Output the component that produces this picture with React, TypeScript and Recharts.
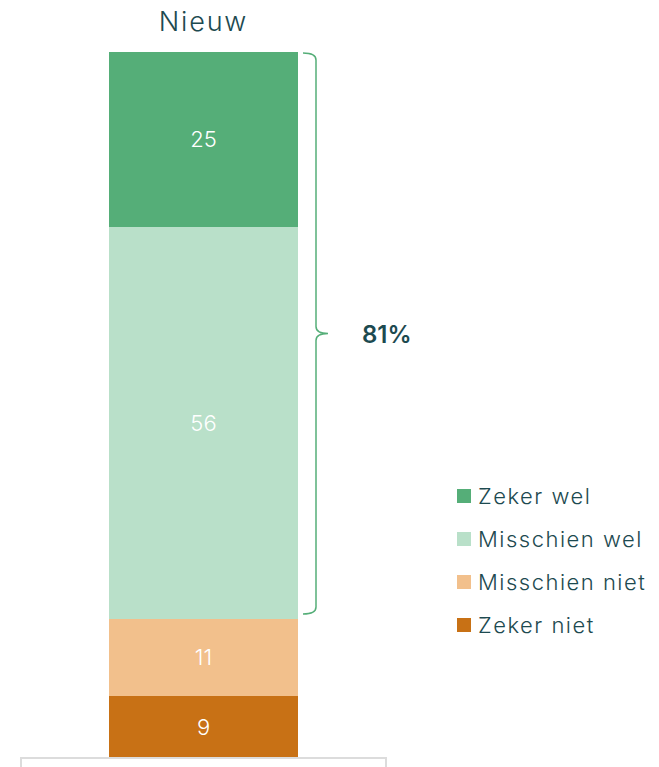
import { BarChart, Bar, XAxis, YAxis, LabelList, ReferenceArea } from 'recharts'

const categories = ['Nieuw']
const zekerNiet = [9]
const misschienNiet = [11]
const misschienWel = [56]
const zekerWel = [25]
const bracketLabel = '81%'

const series = [
  { key: 'zekerWel', name: 'Zeker wel', color: '#55ae78' },
  { key: 'misschienWel', name: 'Misschien wel', color: '#b9e0c9' },
  { key: 'misschienNiet', name: 'Misschien niet', color: '#f2c08c' },
  { key: 'zekerNiet', name: 'Zeker niet', color: '#c87115' },
]

const data = categories.map((c, i) => ({
  name: c,
  zekerNiet: zekerNiet[i],
  misschienNiet: misschienNiet[i],
  misschienWel: misschienWel[i],
  zekerWel: zekerWel[i],
}))

const total = zekerNiet[0] + misschienNiet[0] + misschienWel[0] + zekerWel[0]
const positiveFrom = zekerNiet[0] + misschienNiet[0]

const textColor = '#1d4a50'
const font = 'Inter, "Open Sans", sans-serif'

// curly bracket beside the "wel" part of the stack
function Bracket(props: any) {
  const { x, y, width, height } = props
  const bx = x + width + 18
  const top = y + 1
  const bottom = y + height - 5
  const mid = (top + bottom) / 2
  const d = `M${bx - 13},${top} Q${bx},${top} ${bx},${top + 7} L${bx},${mid - 7} Q${bx},${mid} ${bx + 12},${mid} Q${bx},${mid} ${bx},${mid + 7} L${bx},${bottom - 7} Q${bx},${bottom} ${bx - 13},${bottom}`
  return (
    <g>
      <path d={d} fill="none" stroke="#55ae78" strokeWidth={1.5} />
      <text x={bx + 46} y={mid + 9} fill={textColor} fontSize={24} fontWeight={600} fontFamily={font}>
        {bracketLabel}
      </text>
    </g>
  )
}

function LegendBox() {
  return (
    <div style={{ position: 'absolute', left: 457, top: 474, width: 202, fontFamily: font }}>
      {series.map((s) => (
        <div key={s.key} style={{ display: 'flex', alignItems: 'center', height: 43 }}>
          <span style={{ width: 14, height: 14, background: s.color, marginRight: 7, flexShrink: 0 }} />
          <span style={{ fontSize: 22, color: textColor, fontWeight: 300, letterSpacing: 1.5, whiteSpace: 'nowrap' }}>
            {s.name}
          </span>
        </div>
      ))}
    </div>
  )
}

export default function App() {
  return (
    <div style={{ position: 'absolute', left: 0, top: 0, width: 659, height: 767, overflow: 'hidden', background: '#fff' }}>
      <BarChart
        width={659}
        height={767}
        data={data}
        margin={{ top: 0, right: 361, bottom: 8, left: 109 }}
        barCategoryGap={0}
      >
        <XAxis
          dataKey="name"
          orientation="top"
          height={52}
          axisLine={false}
          tickLine={false}
          tickSize={0}
          tickMargin={21}
          tick={{ fill: textColor, fontSize: 27, fontFamily: font, fontWeight: 300, letterSpacing: 1.8 }}
        />
        <YAxis hide domain={[0, total]} />
        {[...series].reverse().map((s) => (
          <Bar key={s.key} dataKey={s.key} name={s.name} stackId="a" fill={s.color} isAnimationActive={false}>
            <LabelList
              dataKey={s.key}
              position="center"
              fill="#fff"
              fontSize={22}
              fontFamily={font}
              fontWeight={300}
            />
          </Bar>
        ))}
        <ReferenceArea
          y1={positiveFrom}
          y2={total}
          ifOverflow="visible"
          shape={(p: any) => <Bracket {...p} />}
        />
      </BarChart>
      <LegendBox />
      <div
        style={{
          position: 'absolute',
          left: 20,
          top: 757,
          width: 363,
          height: 30,
          border: '2px solid #dcdcdc',
          background: '#fff',
        }}
      />
    </div>
  )
}
